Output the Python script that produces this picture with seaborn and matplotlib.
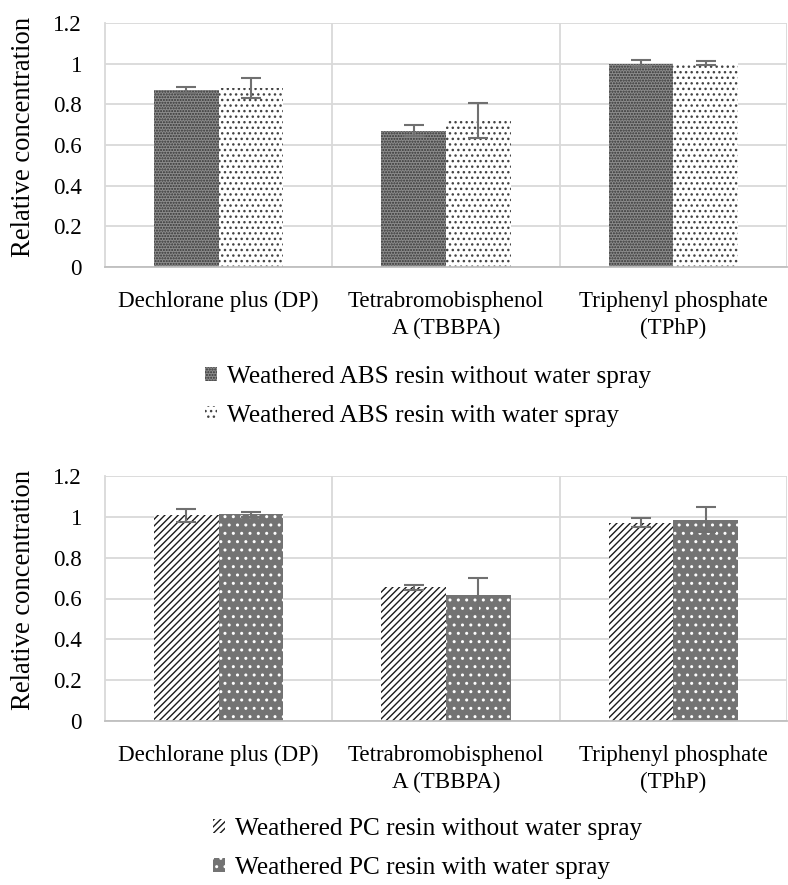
import numpy as np
import pandas as pd
import matplotlib
matplotlib.use("Agg")
import matplotlib.pyplot as plt
import seaborn as sns
from matplotlib.patches import Patch

sns.set_theme(style="white")
plt.rcParams['font.family'] = ['Liberation Serif', 'DejaVu Serif']
plt.rcParams['hatch.linewidth'] = 1.0
plt.rcParams['text.color'] = 'black'
plt.rcParams['xtick.color'] = 'black'
plt.rcParams['ytick.color'] = 'black'
plt.rcParams['axes.labelcolor'] = 'black'

categories = ["Dechlorane plus (DP)", "Tetrabromobisphenol\nA (TBBPA)", "Triphenyl phosphate\n(TPhP)"]

abs_series = ["Weathered ABS resin without water spray", "Weathered ABS resin with water spray"]
abs_without = [0.870, 0.670, 1.000]
abs_without_err = [0.013, 0.028, 0.018]
abs_with = [0.880, 0.720, 1.005]
abs_with_err = [0.050, 0.085, 0.010]

pc_series = ["Weathered PC resin without water spray", "Weathered PC resin with water spray"]
pc_without = [1.007, 0.654, 0.971]
pc_without_err = [0.032, 0.010, 0.022]
pc_with = [1.012, 0.616, 0.986]
pc_with_err = [0.012, 0.085, 0.060]

yticks = [0, 0.2, 0.4, 0.6, 0.8, 1.0, 1.2]
yticklabels = ["0", "0.2", "0.4", "0.6", "0.8", "1", "1.2"]

FS_TICK = 16.6
FS_LEG = 18.2
FS_YLAB = 19.2
W, H = 788, 885
fig = plt.figure(figsize=(W / 100, H / 100), dpi=100)

# styles: (facecolor, hatchcolor, hatch)
abs_styles = [("#8c8c8c", "#333333", "......"), ("#ffffff", "#444444", "...")]
pc_styles = [("#ffffff", "#1a1a1a", "/////"), ("#737373", "#ffffff", "..")]


def draw(ax, series, v1, e1, v2, e2, styles, legend_top):
    df = pd.DataFrame({
        "category": categories * 2,
        "series": [series[0]] * 3 + [series[1]] * 3,
        "value": list(v1) + list(v2),
    })
    sns.barplot(data=df, x="category", y="value", hue="series", hue_order=series,
                order=categories, width=0.57, ax=ax, errorbar=None, legend=False,
                saturation=1)
    errs = [e1, e2]
    vals = [v1, v2]
    bar_conts = list(ax.containers)[:2]
    for ci, cont in enumerate(bar_conts):
        fc, hc, hatch = styles[ci]
        for p in cont:
            p.set_facecolor(fc)
            p.set_edgecolor(hc)
            p.set_hatch(hatch)
            p.set_linewidth(0)
        xs = [p.get_x() + p.get_width() / 2 for p in cont]
        ax.errorbar(xs, vals[ci], yerr=errs[ci], fmt="none", ecolor="#707070",
                    elinewidth=1.5, capsize=7, capthick=1.5, zorder=5)
    ax.set_ylim(0, 1.2)
    ax.set_xlim(-0.5, 2.5)
    ax.set_yticks(yticks)
    ax.set_yticklabels(yticklabels, fontsize=FS_TICK)
    ax.tick_params(axis="y", length=0, pad=16.5)
    ax.tick_params(axis="x", length=0, pad=17.5, labelsize=FS_TICK)
    ax.set_xticks(range(3))
    ax.set_xticklabels(categories, fontsize=FS_TICK, linespacing=1.35)
    ax.set_xlabel("")
    ax.set_ylabel("Relative concentration", fontsize=FS_YLAB)
    ax.yaxis.set_label_coords((36 - 105) / 682, 0.535)
    ax.set_axisbelow(True)
    ax.yaxis.grid(True, color="#d9d9d9", linewidth=1.3)
    for xb in [0.5, 1.5, 2.5]:
        ax.axvline(xb, color="#d9d9d9", linewidth=1.3, zorder=0)
    for s in ["top", "right"]:
        ax.spines[s].set_visible(False)
    ax.spines["left"].set_color("#d9d9d9")
    ax.spines["left"].set_linewidth(1.3)
    ax.spines["bottom"].set_color("#bfbfbf")
    ax.spines["bottom"].set_linewidth(1.3)
    handles = [Patch(facecolor=styles[i][0], edgecolor=styles[i][1], hatch=styles[i][2],
                     linewidth=0, label=series[i]) for i in range(2)]
    fig.legend(handles=handles, loc="upper center", bbox_to_anchor=(428 / W, 1 - legend_top / H),
               frameon=False, fontsize=FS_LEG, handlelength=0.47, handleheight=0.5,
               handletextpad=0.4, labelspacing=0.68, borderpad=0, borderaxespad=0)


ax1 = fig.add_axes([105 / W, 1 - 267 / H, (787 - 105) / W, (267 - 23) / H])
draw(ax1, abs_series, abs_without, abs_without_err, abs_with, abs_with_err, abs_styles, 366)
ax2 = fig.add_axes([105 / W, 1 - 721 / H, (787 - 105) / W, (721 - 476) / H])
draw(ax2, pc_series, pc_without, pc_without_err, pc_with, pc_with_err, pc_styles, 818)

fig.savefig("out.png", dpi=100)
